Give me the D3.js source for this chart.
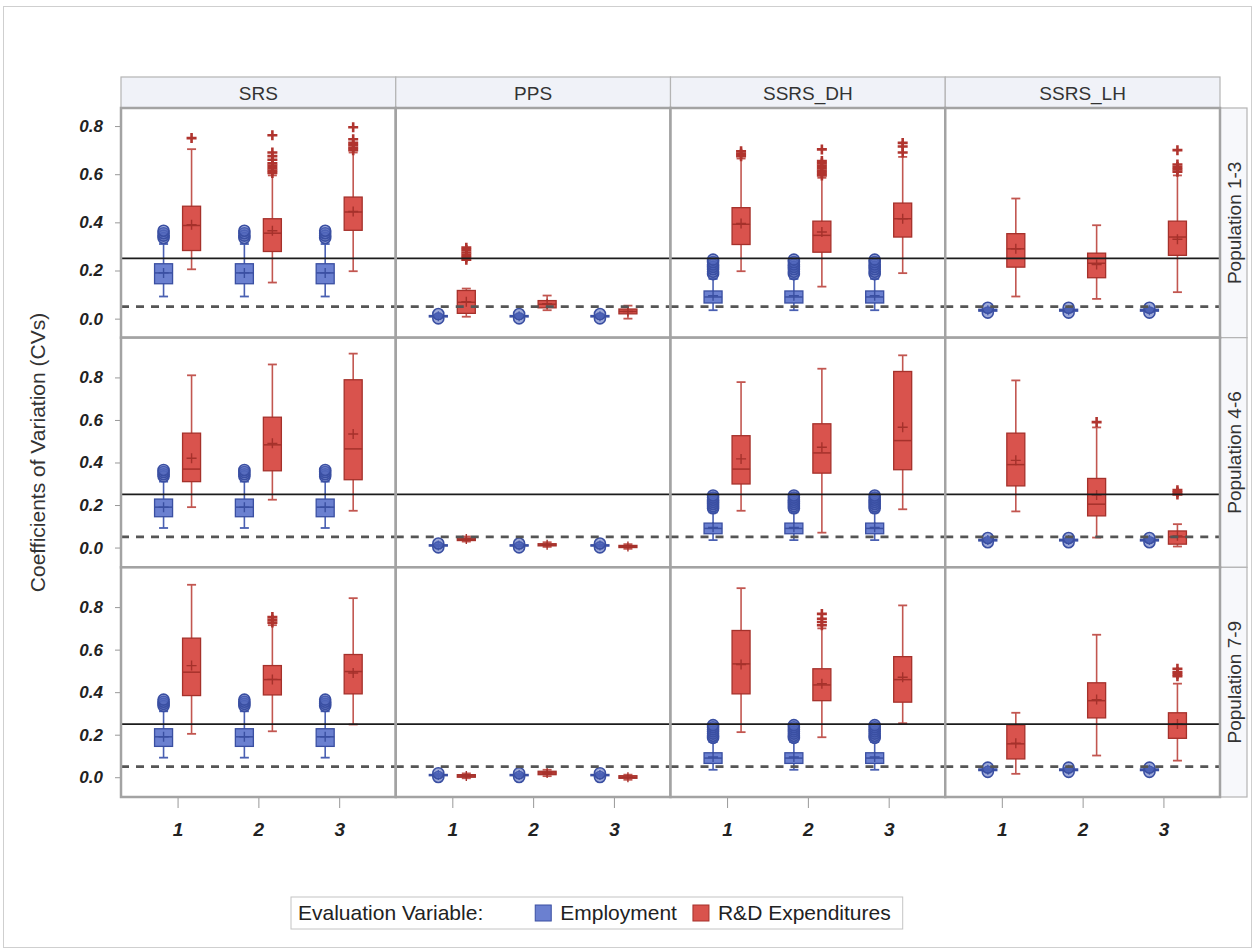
<!DOCTYPE html>
<html>
<head>
<meta charset="utf-8">
<script src="https://cdn.jsdelivr.net/npm/d3@7"></script>
<style>
  body { margin: 0; background: #fff; }
  svg { display: block; font-family: Arial, "Liberation Sans", sans-serif; }
</style>
</head>
<body>
<svg id="chart" width="1255" height="950"></svg>
<script>
// ---- data -------------------------------------------------------------
const designs = ["SRS", "PPS", "SSRS_DH", "SSRS_LH"];
const populations = ["Population 1-3", "Population 4-6", "Population 7-9"];
const samples = ["1", "2", "3"];
const variables = ["Employment", "R&D Expenditures"];
const yTicks = [0, 0.2, 0.4, 0.6, 0.8];
const cvTarget = 0.25;   // solid reference line
const cvBound = 0.05;    // dashed reference line

// Box statistics: [whiskerLow, q1, median, q3, whiskerHigh, mean, outliers]
// Employment: one box per design, repeated for every sample and population
const employmentStats = [
  [0.092, 0.145, 0.19, 0.228, 0.31, 0.19, [0.335, 0.345, 0.355, 0.365]],
  [0.004, 0.007, 0.01, 0.013, 0.016, 0.01, [0.001, 0.019]],
  [0.035, 0.065, 0.09, 0.115, 0.165, 0.095, [0.185, 0.195, 0.205, 0.215, 0.225, 0.235, 0.245]],
  [0.028, 0.031, 0.035, 0.039, 0.042, 0.035, [0.025, 0.045]]
];

// R&D Expenditures, [design][sample]
const rdPop13 = [
  [[0.205, 0.283, 0.387, 0.467, 0.704, 0.39, [0.75]],
   [0.15, 0.279, 0.355, 0.415, 0.595, 0.365, [0.605, 0.615, 0.625, 0.635, 0.645, 0.66, 0.675, 0.69, 0.762]],
   [0.197, 0.367, 0.443, 0.505, 0.69, 0.445, [0.70, 0.71, 0.72, 0.73, 0.745, 0.795]]],
  [[0.008, 0.022, 0.068, 0.117, 0.125, 0.07, [0.245, 0.255, 0.265, 0.275, 0.285, 0.295]],
   [0.035, 0.045, 0.06, 0.075, 0.096, 0.062, []],
   [0.0, 0.02, 0.03, 0.04, 0.054, 0.03, []]],
  [[0.197, 0.308, 0.392, 0.461, 0.665, 0.395, [0.675, 0.685, 0.695]],
   [0.133, 0.276, 0.346, 0.405, 0.585, 0.36, [0.595, 0.605, 0.615, 0.625, 0.635, 0.645, 0.655, 0.703]],
   [0.189, 0.339, 0.415, 0.48, 0.672, 0.415, [0.69, 0.715, 0.73]]],
  [[0.092, 0.214, 0.29, 0.353, 0.499, 0.29, []],
   [0.082, 0.17, 0.23, 0.272, 0.388, 0.225, []],
   [0.11, 0.263, 0.339, 0.405, 0.595, 0.33, [0.61, 0.62, 0.63, 0.64, 0.70]]]
];
const rdPop46 = [
  [[0.19, 0.31, 0.369, 0.538, 0.81, 0.42, []],
   [0.225, 0.361, 0.483, 0.613, 0.861, 0.49, []],
   [0.173, 0.319, 0.464, 0.789, 0.912, 0.534, []]],
  [[0.028, 0.033, 0.038, 0.045, 0.052, 0.04, []],
   [0.003, 0.008, 0.012, 0.018, 0.025, 0.013, []],
   [-0.006, 0.0, 0.005, 0.01, 0.016, 0.005, []]],
  [[0.173, 0.299, 0.369, 0.526, 0.778, 0.417, []],
   [0.07, 0.35, 0.445, 0.582, 0.841, 0.472, []],
   [0.18, 0.366, 0.503, 0.828, 0.904, 0.566, []]],
  [[0.17, 0.29, 0.39, 0.538, 0.786, 0.41, []],
   [0.047, 0.149, 0.204, 0.325, 0.565, 0.247, [0.59]],
   [0.005, 0.016, 0.05, 0.078, 0.11, 0.055, [0.25, 0.26, 0.27]]]
];
const rdPop79 = [
  [[0.204, 0.384, 0.494, 0.654, 0.905, 0.525, []],
   [0.216, 0.387, 0.459, 0.525, 0.715, 0.46, [0.727, 0.74, 0.753]],
   [0.248, 0.392, 0.497, 0.577, 0.842, 0.49, []]],
  [[-0.005, 0.0, 0.006, 0.012, 0.018, 0.006, []],
   [0.005, 0.012, 0.02, 0.028, 0.035, 0.02, []],
   [-0.012, -0.005, 0.0, 0.007, 0.012, 0.0, []]],
  [[0.212, 0.392, 0.533, 0.69, 0.889, 0.53, []],
   [0.188, 0.36, 0.434, 0.51, 0.70, 0.44, [0.715, 0.73, 0.745, 0.768]],
   [0.254, 0.353, 0.459, 0.567, 0.808, 0.47, []]],
  [[0.016, 0.086, 0.157, 0.246, 0.303, 0.16, []],
   [0.102, 0.279, 0.36, 0.444, 0.67, 0.365, []],
   [0.078, 0.183, 0.248, 0.303, 0.44, 0.25, [0.475, 0.485, 0.495, 0.51]]]
];
const rdByPopulation = [rdPop13, rdPop46, rdPop79];

// ---- layout -----------------------------------------------------------
const svg = d3.select("#chart");
const plot = { left: 121, right: 1220, top: 108, bottom: 797 };
const headerTop = 77;
const stripRight = 1247;
const yDomains = [[-0.079, 0.875], [-0.093, 0.987], [-0.093, 0.987]];

const colX = d3.scaleBand().domain(designs).range([plot.left, plot.right]);
const rowY = d3.scaleBand().domain(populations).range([plot.top, plot.bottom]);
const colW = colX.bandwidth();
const rowH = rowY.bandwidth();
const xSample = d3.scalePoint().domain(samples).range([0, colW]).padding(0.7);
const xVar = d3.scalePoint().domain(variables).range([-14, 14]);
const yScales = yDomains.map(d => d3.scaleLinear().domain(d).range([rowH, 0]));

const styles = {
  "Employment": { fill: "#6b80d0", stroke: "#3a4fa2", whisker: "#4a60b2", mark: "circle", markFill: "#5066bb" },
  "R&D Expenditures": { fill: "#d9534d", stroke: "#a5312b", whisker: "#c25650", mark: "plus", markFill: "#b0342e" }
};
const halfBox = 9;
const tickFont = "Arial, 'Liberation Sans', sans-serif";

// outer frame of the image
svg.append("rect").attr("x", 3.5).attr("y", 6.5).attr("width", 1248).attr("height", 941)
  .attr("fill", "none").attr("stroke", "#cfcfcf").attr("stroke-width", 1);

// column headers
const headers = svg.append("g");
designs.forEach(d => {
  headers.append("rect").attr("x", colX(d)).attr("y", headerTop)
    .attr("width", colW).attr("height", plot.top - headerTop)
    .attr("fill", "#f0f2f8").attr("stroke", "#b4b4b4").attr("stroke-width", 1.2);
  headers.append("text").attr("x", colX(d) + colW / 2).attr("y", (headerTop + plot.top) / 2 + 7)
    .attr("text-anchor", "middle").attr("font-size", 19).attr("fill", "#333").text(d);
});

// row headers on the right
populations.forEach(p => {
  const y0 = rowY(p);
  svg.append("rect").attr("x", plot.right).attr("y", y0)
    .attr("width", stripRight - plot.right).attr("height", rowH)
    .attr("fill", "#f7f8fb").attr("stroke", "#b4b4b4").attr("stroke-width", 1.2);
  svg.append("text")
    .attr("transform", `translate(${(plot.right + stripRight) / 2 + 7},${y0 + rowH / 2}) rotate(-90)`)
    .attr("text-anchor", "middle").attr("font-size", 19).attr("fill", "#333").text(p);
});

function drawBox(g, cx, s, st, y) {
  const [lo, q1, med, q3, hi, mean, outs] = s;
  const b = g.append("g");
  // whiskers and caps
  b.append("line").attr("x1", cx).attr("x2", cx).attr("y1", y(lo)).attr("y2", y(hi))
    .attr("stroke", st.whisker).attr("stroke-width", 1.6);
  [lo, hi].forEach(v => b.append("line").attr("x1", cx - 4.5).attr("x2", cx + 4.5)
    .attr("y1", y(v)).attr("y2", y(v)).attr("stroke", st.whisker).attr("stroke-width", 1.8));
  // box
  b.append("rect").attr("x", cx - halfBox).attr("width", halfBox * 2)
    .attr("y", y(q3)).attr("height", Math.max(1, y(q1) - y(q3)))
    .attr("fill", st.fill).attr("stroke", st.stroke).attr("stroke-width", 1.3);
  // median
  b.append("line").attr("x1", cx - halfBox).attr("x2", cx + halfBox)
    .attr("y1", y(med)).attr("y2", y(med)).attr("stroke", st.stroke).attr("stroke-width", 1.5);
  // mean
  b.append("path").attr("d", `M${cx - 5},${y(mean)}H${cx + 5}M${cx},${y(mean) - 5}V${y(mean) + 5}`)
    .attr("stroke", st.stroke).attr("stroke-width", 1.4).attr("fill", "none");
  // outliers
  outs.forEach(v => {
    if (st.mark === "circle") {
      b.append("circle").attr("cx", cx).attr("cy", y(v)).attr("r", 5.5)
        .attr("fill", st.markFill).attr("fill-opacity", 0.55)
        .attr("stroke", st.stroke).attr("stroke-width", 1.6);
    } else {
      b.append("path").attr("d", `M${cx - 5},${y(v)}H${cx + 5}M${cx},${y(v) - 5}V${y(v) + 5}`)
        .attr("stroke", st.markFill).attr("stroke-width", 2.6).attr("fill", "none");
    }
  });
}

// panels
populations.forEach((p, r) => {
  const y = yScales[r];
  designs.forEach((d, c) => {
    const g = svg.append("g").attr("transform", `translate(${colX(d)},${rowY(p)})`);
    g.append("rect").attr("width", colW).attr("height", rowH).attr("fill", "#fff");
    samples.forEach((smp, k) => {
      const cx = xSample(smp);
      drawBox(g, cx + xVar("Employment"), employmentStats[c], styles["Employment"], y);
      drawBox(g, cx + xVar("R&D Expenditures"), rdByPopulation[r][c][k], styles["R&D Expenditures"], y);
    });
    // reference lines
    g.append("line").attr("x1", 0).attr("x2", colW).attr("y1", y(cvTarget)).attr("y2", y(cvTarget))
      .attr("stroke", "#1c1c1c").attr("stroke-width", 1.7);
    g.append("line").attr("x1", 0).attr("x2", colW).attr("y1", y(cvBound)).attr("y2", y(cvBound))
      .attr("stroke", "#555").attr("stroke-width", 2.6).attr("stroke-dasharray", "8,7");
    // panel border
    g.append("rect").attr("width", colW).attr("height", rowH)
      .attr("fill", "none").attr("stroke", "#a3a3a3").attr("stroke-width", 2.5);
  });

  // left axis
  const ax = svg.append("g").attr("transform", `translate(${plot.left - 1},${rowY(p)})`)
    .call(d3.axisLeft(y).tickValues(yTicks).tickFormat(d3.format(".1f")).tickSize(5).tickPadding(12));
  ax.select(".domain").remove();
  ax.selectAll(".tick line").attr("stroke", "#999");
  ax.selectAll(".tick text").attr("font-size", 17).attr("font-weight", "bold")
    .attr("font-style", "italic").attr("fill", "#222").attr("font-family", tickFont);
});

// bottom axes
designs.forEach(d => {
  const xs = d3.scalePoint().domain(samples).range([colX(d), colX(d) + colW]).padding(0.7);
  const ax = svg.append("g").attr("transform", `translate(0,${plot.bottom + 1})`)
    .call(d3.axisBottom(xs).tickSize(10).tickPadding(15));
  ax.select(".domain").remove();
  ax.selectAll(".tick line").attr("stroke", "#999");
  ax.selectAll(".tick text").attr("font-size", 19).attr("font-weight", "bold")
    .attr("font-style", "italic").attr("fill", "#222").attr("font-family", tickFont);
});

// y axis title
svg.append("text")
  .attr("transform", `translate(45,${(plot.top + plot.bottom) / 2}) rotate(-90)`)
  .attr("text-anchor", "middle").attr("font-size", 21).attr("fill", "#333")
  .text("Coefficients of Variation (CVs)");

// legend
const lg = svg.append("g");
const lgY = 913;
const lgBox = lg.append("rect").attr("y", 897).attr("height", 32)
  .attr("fill", "#fff").attr("stroke", "#c4c4c4").attr("stroke-width", 1);
let lx = 298;
const title = lg.append("text").attr("x", lx).attr("y", lgY + 7).attr("font-size", 21)
  .attr("fill", "#222").text("Evaluation Variable:");
lx += title.node().getComputedTextLength() + 52;
variables.forEach(v => {
  lg.append("rect").attr("x", lx).attr("y", lgY - 8).attr("width", 16).attr("height", 16)
    .attr("fill", styles[v].fill).attr("stroke", styles[v].stroke).attr("stroke-width", 1);
  lx += 25;
  const t = lg.append("text").attr("x", lx).attr("y", lgY + 7).attr("font-size", 21)
    .attr("fill", "#222").text(v);
  lx += t.node().getComputedTextLength() + 16;
});
lgBox.attr("x", 291).attr("width", lx - 291 - 4);
</script>
</body>
</html>
